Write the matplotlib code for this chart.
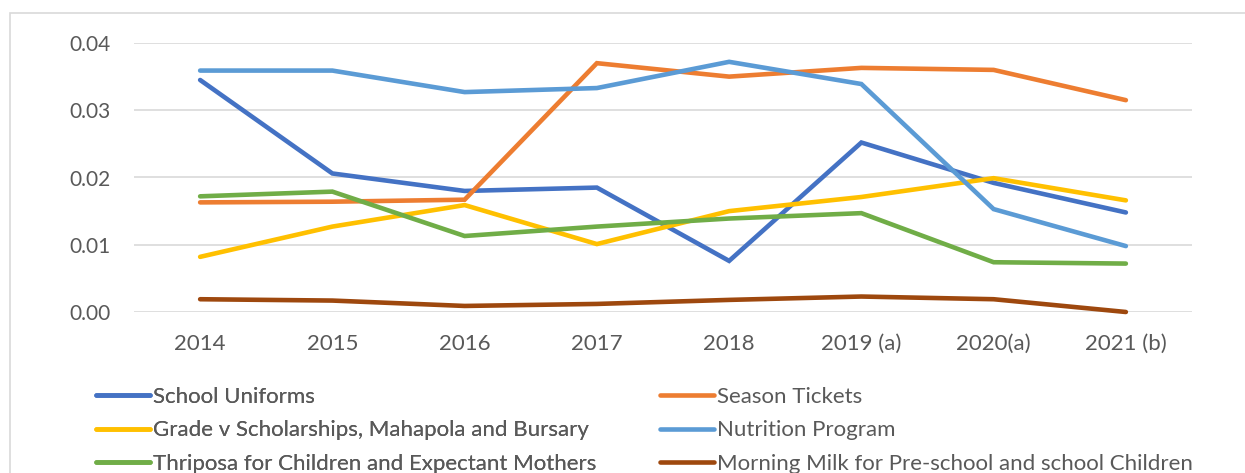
import matplotlib
matplotlib.use("Agg")
import matplotlib.pyplot as plt
from matplotlib.patches import Rectangle

years = ["2014", "2015", "2016", "2017", "2018", "2019 (a)", "2020(a)", "2021 (b)"]
school_uniforms = [0.0345, 0.0206, 0.0180, 0.0185, 0.0076, 0.0252, 0.0192, 0.0148]
season_tickets = [0.0163, 0.0164, 0.0167, 0.0370, 0.0350, 0.0363, 0.0360, 0.0315]
grade_v = [0.0082, 0.0127, 0.0159, 0.0101, 0.0150, 0.0171, 0.0199, 0.0166]
nutrition = [0.0359, 0.0359, 0.0327, 0.0333, 0.0372, 0.0339, 0.0153, 0.0098]
thriposa = [0.0172, 0.0179, 0.0113, 0.0127, 0.0139, 0.0147, 0.0074, 0.0072]
morning_milk = [0.0019, 0.0017, 0.0009, 0.0012, 0.0018, 0.0023, 0.0019, 0.0000]

series = [
    ("School Uniforms", school_uniforms, "#4472C4"),
    ("Season Tickets", season_tickets, "#ED7D31"),
    ("Grade v Scholarships, Mahapola and Bursary", grade_v, "#FFC000"),
    ("Nutrition Program", nutrition, "#5B9BD5"),
    ("Thriposa for Children and Expectant Mothers", thriposa, "#70AD47"),
    ("Morning Milk for Pre-school and school Children", morning_milk, "#9E480E"),
]

plt.rcParams['font.family'] = ['Lato', 'DejaVu Sans']
W, H = 1245, 473
fig = plt.figure(figsize=(W / 100, H / 100), dpi=100)
fig.patches.append(Rectangle((10 / W, -0.1), 1.2, 1 - 13 / H + 0.1, transform=fig.transFigure,
                             fill=False, edgecolor="#D9D9D9", linewidth=1.2))
ax = fig.add_axes([134 / W, 1 - 312 / H, (1192 - 134) / W, (312 - 43) / H])

x = list(range(len(years)))
handles = {}
for name, vals, col in series:
    ln, = ax.plot(x, vals, color=col, lw=3.3, solid_capstyle="round", solid_joinstyle="miter",
                  clip_on=False, label=name, zorder=3)
    handles[name] = ln

ax.set_xlim(-0.5, len(years) - 0.5)
ax.set_ylim(0, 0.04)
ax.set_yticks([0, 0.01, 0.02, 0.03, 0.04])
ax.set_yticklabels(["0.00", "0.01", "0.02", "0.03", "0.04"])
ax.set_xticks(x)
ax.set_xticklabels(years)
ax.grid(axis="y", color="#D9D9D9", lw=1.2, zorder=0)
ax.set_axisbelow(True)
for s in ax.spines.values():
    s.set_visible(False)
ax.tick_params(axis="both", length=0, labelcolor="#595959")
ax.tick_params(axis="y", pad=17, labelsize=15)
ax.tick_params(axis="x", pad=16, labelsize=16)

cols = [[0, 2, 4], [1, 3, 5]]
anchors_x = [96, 660]
legs = []
for c, axx in zip(cols, anchors_x):
    hl = [handles[series[i][0]] for i in c]
    lab = [series[i][0] for i in c]
    leg = fig.legend(hl, lab, ncol=1, loc="upper left", bbox_to_anchor=(axx / W, 1 - 387 / H),
                     frameon=False, fontsize=16, handlelength=2.45, handletextpad=0.12,
                     labelspacing=0.6, borderaxespad=0, borderpad=0)
    for t in leg.get_texts():
        t.set_color("#595959")
    legs.append(leg)
for leg in legs[:-1]:
    fig.add_artist(leg)

fig.savefig("out.png", dpi=100)
